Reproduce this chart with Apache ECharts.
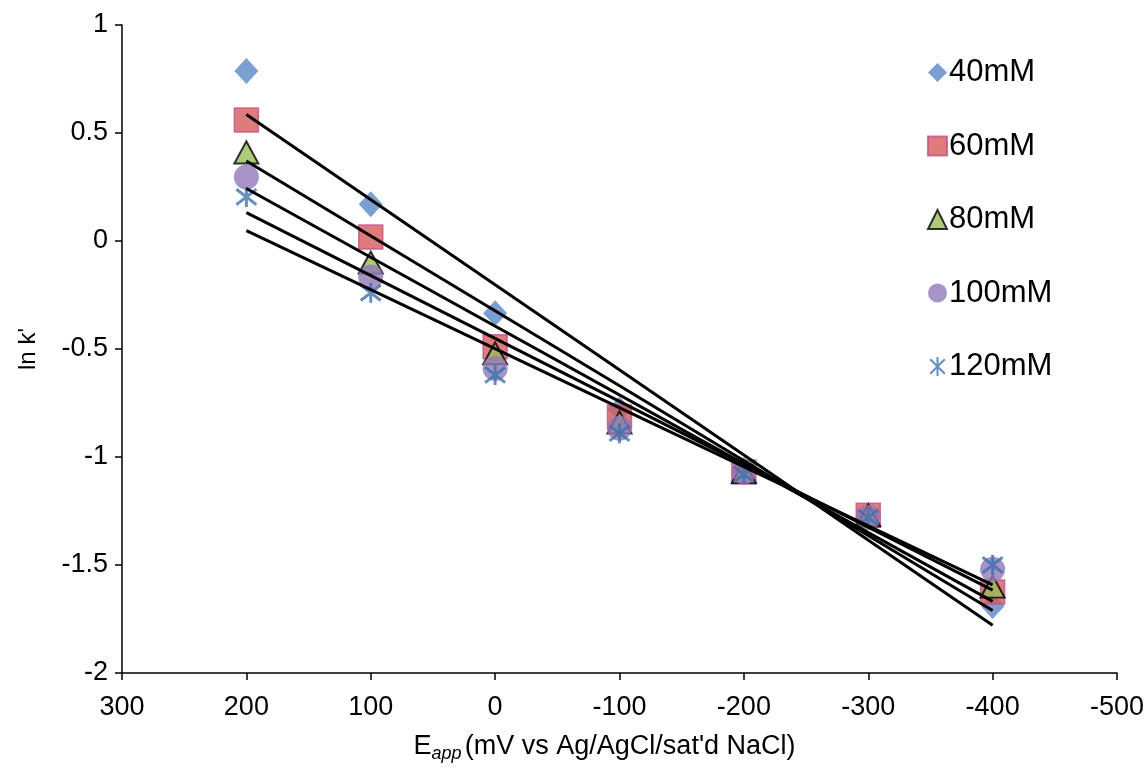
<!DOCTYPE html>
<html>
<head>
<meta charset="utf-8">
<script src="https://cdn.jsdelivr.net/npm/echarts@6/dist/echarts.min.js"></script>
<style>
  html, body { margin: 0; padding: 0; background: #fff; }
  #chart { width: 1148px; height: 778px; }
</style>
</head>
<body>
<div id="chart"></div>
<script>
// Applied potential (mV vs Ag/AgCl/sat'd NaCl)
const potentials = [200, 100, 0, -100, -200, -300, -400];

// ln k' at each potential, per electrolyte concentration
const series40mM  = [0.787, 0.170, -0.335, -0.780, -1.060, -1.270, -1.690];
const series60mM  = [0.560, 0.018, -0.490, -0.815, -1.070, -1.270, -1.625];
const series80mM  = [0.410, -0.100, -0.520, -0.840, -1.070, -1.270, -1.600];
const series100mM = [0.296, -0.167, -0.590, -0.866, -1.070, -1.280, -1.520];
const series120mM = [0.204, -0.240, -0.620, -0.890, -1.080, -1.280, -1.500];

const seriesNames = ['40mM', '60mM', '80mM', '100mM', '120mM'];

const xTicks = [300, 200, 100, 0, -100, -200, -300, -400, -500];
const yTicks = [1, 0.5, 0, -0.5, -1, -1.5, -2];

const FONT = '"Liberation Sans", Arial, sans-serif';

// Least-squares straight line through a series, evaluated at the end potentials
function trendline(xs, ys) {
  const n = xs.length;
  const mx = xs.reduce((a, b) => a + b, 0) / n;
  const my = ys.reduce((a, b) => a + b, 0) / n;
  let sxy = 0, sxx = 0;
  for (let i = 0; i < n; i++) {
    sxy += (xs[i] - mx) * (ys[i] - my);
    sxx += (xs[i] - mx) * (xs[i] - mx);
  }
  const slope = sxy / sxx;
  const x0 = Math.max(...xs), x1 = Math.min(...xs);
  return [[x0, my + slope * (x0 - mx)], [x1, my + slope * (x1 - mx)]];
}

const pairs = ys => potentials.map((x, i) => [x, ys[i]]);

const asterisk = 'path://M0,0L10,10M10,0L0,10M5,-1.5L5,11.5';

const markerStyles = [
  { symbol: 'diamond', symbolSize: [24, 26], itemStyle: { color: '#5A87C6' } },
  { symbol: 'rect', symbolSize: 24, itemStyle: { color: '#D65A5D', borderColor: '#C4508A', borderWidth: 1.5 } },
  { symbol: 'triangle', symbolSize: [24, 22], itemStyle: { color: '#9BBB59', borderColor: '#000', borderWidth: 2 } },
  { symbol: 'circle', symbolSize: 25, itemStyle: { color: '#9178B6' } },
  { symbol: asterisk, symbolSize: 20, itemStyle: { color: 'rgba(0,0,0,0)', borderColor: '#3F70AE', borderWidth: 3 } }
];

const allValues = [series40mM, series60mM, series80mM, series100mM, series120mM];

const scatterSeries = allValues.map((ys, i) => Object.assign({
  name: seriesNames[i],
  type: 'scatter',
  data: pairs(ys),
  z: 2
}, markerStyles[i]));

const lineSeries = allValues.map(ys => ({
  type: 'line',
  data: trendline(potentials, ys),
  showSymbol: false,
  symbol: 'none',
  silent: true,
  z: 3,
  lineStyle: { color: '#000', width: 3 }
}));

const chart = echarts.init(document.getElementById('chart'), null, { renderer: 'canvas' });

chart.setOption({
  animation: false,
  backgroundColor: '#fff',
  grid: { left: 122, right: 31, top: 25, bottom: 105 },
  legend: {
    data: seriesNames.map((n, i) => ({ name: n, icon: i === 4 ? asterisk : undefined })),
    orient: 'vertical',
    left: 922,
    top: 52,
    itemWidth: 19,
    itemHeight: 19,
    itemGap: 42.5,
    textStyle: { fontFamily: FONT, fontSize: 31, color: '#000', padding: [0, 0, 0, -3] }
  },
  xAxis: {
    type: 'value',
    inverse: true,
    min: xTicks[xTicks.length - 1],
    max: xTicks[0],
    interval: 100,
    splitLine: { show: false },
    axisLine: { onZero: false, lineStyle: { color: '#000', width: 1.5 } },
    axisTick: { length: 7, lineStyle: { color: '#000', width: 1.5 } },
    axisLabel: { fontFamily: FONT, fontSize: 27, color: '#000', margin: 21 },
    name: '{e|E}{s|app} {e|(mV vs Ag/AgCl/sat\'d NaCl)}',
    nameLocation: 'middle',
    nameGap: 58,
    nameTextStyle: {
      padding: [0, 30, 0, 0],
      rich: {
        e: { fontFamily: FONT, fontSize: 27, color: '#000' },
        s: { fontFamily: FONT, fontSize: 18, fontStyle: 'italic', color: '#000', verticalAlign: 'bottom', padding: [14, 0, 0, 0] }
      }
    }
  },
  yAxis: {
    type: 'value',
    min: yTicks[yTicks.length - 1],
    max: yTicks[0],
    interval: 0.5,
    splitLine: { show: false },
    axisLine: { onZero: false, lineStyle: { color: '#000', width: 1.5 } },
    axisTick: { length: 7, lineStyle: { color: '#000', width: 1.5 } },
    axisLabel: { fontFamily: FONT, fontSize: 27, color: '#000', margin: 14 },
    name: 'ln k\'',
    nameLocation: 'middle',
    nameRotate: 90,
    nameGap: 82,
    nameTextStyle: { fontFamily: FONT, fontSize: 24, color: '#000' }
  },
  series: scatterSeries.concat(lineSeries)
});
</script>
</body>
</html>
